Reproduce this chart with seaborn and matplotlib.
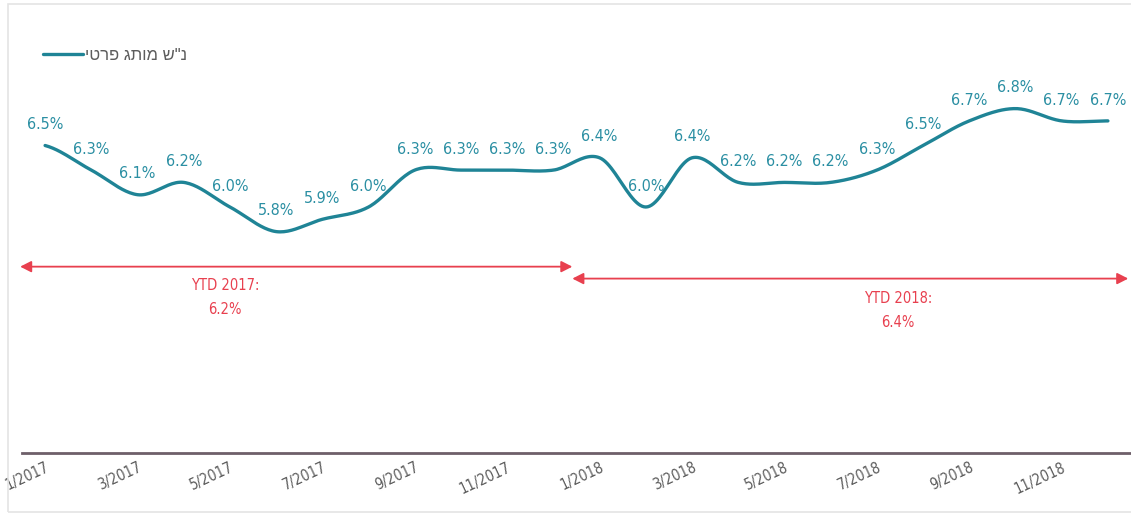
import numpy as np
import pandas as pd
import matplotlib
matplotlib.use("Agg")
import matplotlib.pyplot as plt
from matplotlib.patches import Rectangle
import seaborn as sns

# Private-label market share by month
months = ["1/2017", "2/2017", "3/2017", "4/2017", "5/2017", "6/2017",
          "7/2017", "8/2017", "9/2017", "10/2017", "11/2017", "12/2017",
          "1/2018", "2/2018", "3/2018", "4/2018", "5/2018", "6/2018",
          "7/2018", "8/2018", "9/2018", "10/2018", "11/2018", "12/2018"]
share = [6.5, 6.3, 6.1, 6.2, 6.0, 5.8, 5.9, 6.0, 6.3, 6.3, 6.3, 6.3,
         6.4, 6.0, 6.4, 6.2, 6.2, 6.2, 6.3, 6.5, 6.7, 6.8, 6.7, 6.7]
series_name = "נ\"ש מותג פרטי"
ytd_labels = ["YTD 2017:\n6.2%", "YTD 2018:\n6.4%"]

TEAL = "#1f8496"
LABEL_TEAL = "#2b8fa3"
RED = "#e8404f"
GREY = "#5c5c5c"

sns.set_theme(style="white")
plt.rcParams["font.family"] = ["DejaVu Sans"]
plt.rcParams["font.stretch"] = "condensed"

W, H = 1131, 518
fig = plt.figure(figsize=(W / 100, H / 100), dpi=100)
ax = fig.add_axes([22 / W, 1 - 453 / H, (W - 22) / W, (453 - 30) / H])

x = np.arange(len(share))
y = np.asarray(share, dtype=float)


def catmull_rom(xs, ys, steps=24):
    """Smooth curve through every point (uniform Catmull-Rom)."""
    px, py = [], []
    n = len(ys)
    for i in range(n - 1):
        p0 = ys[max(i - 1, 0)]
        p1 = ys[i]
        p2 = ys[i + 1]
        p3 = ys[min(i + 2, n - 1)]
        t = np.linspace(0, 1, steps, endpoint=(i == n - 2))
        seg = 0.5 * (2 * p1 + (-p0 + p2) * t
                     + (2 * p0 - 5 * p1 + 4 * p2 - p3) * t ** 2
                     + (-p0 + 3 * p1 - 3 * p2 + p3) * t ** 3)
        px.append(xs[i] + t * (xs[i + 1] - xs[i]))
        py.append(seg)
    return np.concatenate(px), np.concatenate(py)


sx, sy = catmull_rom(x, y)
curve = pd.DataFrame({"x": sx, "y": sy})
sns.lineplot(data=curve, x="x", y="y", ax=ax, color=TEAL, linewidth=2.4,
             label=series_name, sort=False)

# value labels above each month
for xi, yi in zip(x, y):
    ax.annotate(f"{yi:.1f}%", (xi, yi), xytext=(0, 15), textcoords="offset points",
                ha="center", va="center", fontsize=11.5, color=LABEL_TEAL,
                fontstretch="condensed")

# year-to-date spans
arrow_kw = dict(arrowstyle="<|-|>,head_length=0.55,head_width=0.28",
                color=RED, lw=1.3, shrinkA=0, shrinkB=0)
ax.annotate("", xy=(-0.54, 5.515), xytext=(11.41, 5.515), arrowprops=arrow_kw,
            annotation_clip=False)
ax.annotate("", xy=(11.41, 5.418), xytext=(23.44, 5.418), arrowprops=arrow_kw,
            annotation_clip=False)
ax.text(3.9, 5.265, ytd_labels[0], ha="center", va="center", color=RED,
        fontsize=10.5, linespacing=1.8)
ax.text(18.46, 5.16, ytd_labels[1], ha="center", va="center", color=RED,
        fontsize=10.5, linespacing=1.8)

ax.set_xlim(-0.5, 23.5)
ax.set_ylim(4.0, 4.0 + 423 / 123)
ax.set_xticks(x[::2])
ax.set_xticklabels(months[::2], rotation=25, ha="right", rotation_mode="anchor",
                   fontsize=10.5, color=GREY)
ax.tick_params(axis="x", length=0, pad=5)
ax.set_yticks([])
ax.set_xlabel("")
ax.set_ylabel("")
for side in ["top", "right", "left"]:
    ax.spines[side].set_visible(False)
ax.spines["bottom"].set_color("#6e5f69")
ax.spines["bottom"].set_linewidth(2)
ax.patch.set_alpha(0)

# Hebrew is drawn left to right, so the words are given in visual order
leg = ax.legend(handles=ax.get_lines()[:1], labels=[series_name[::-1]],
                loc="center left", bbox_to_anchor=(43 / W, 1 - 55 / H),
                bbox_transform=fig.transFigure, frameon=False, borderpad=0,
                borderaxespad=0, handlelength=2.4, handletextpad=0.12,
                prop={"family": ["Liberation Sans", "DejaVu Sans"], "size": 12,
                      "stretch": "normal"})
for t in leg.get_texts():
    t.set_color(GREY)

# light outer frame
fig.patches.append(Rectangle((8 / W, 1 - 512 / H), 1.2, (512 - 4) / H,
                             transform=fig.transFigure, fill=False,
                             edgecolor="#e4e4e4", linewidth=1.2, zorder=0))

fig.savefig("out.png", dpi=100)
